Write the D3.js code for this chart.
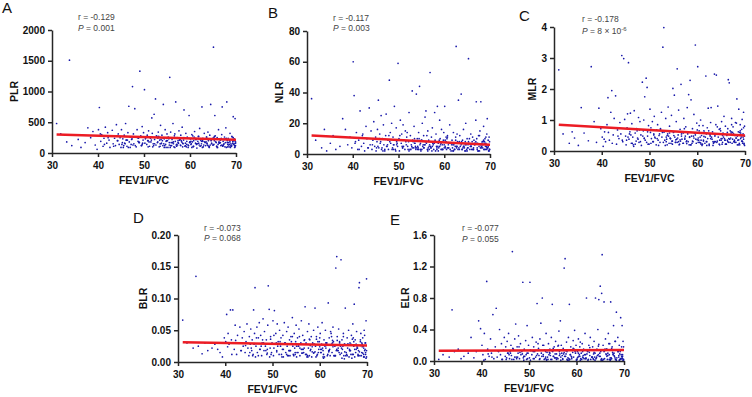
<!DOCTYPE html>
<html>
<head>
<meta charset="utf-8">
<script src="https://cdn.jsdelivr.net/npm/d3@7"></script>
<style>
body{margin:0;background:#fff;}
text{font-family:"Liberation Sans",Arial,sans-serif;}
.axis path,.axis line{stroke:#262626;stroke-width:1.5;}
.axis text{font-size:10px;font-weight:bold;fill:#111;font-family:"Liberation Sans",Arial,sans-serif;}
</style>
</head>
<body>
<div id="chart"></div>
<script>
var W = 752, H = 397;

// FEV1/FVC of each patient (shared by all panels)
var fev = [
31.0,31.9,33.2,33.8,34.3,35.1,35.7,36.3,37.2,37.8,
38.4,38.9,39.4,39.8,40.1,40.3,40.6,40.8,41.1,41.3,
41.6,41.9,42.1,42.4,42.6,42.9,43.1,43.3,43.6,43.8,
44.0,44.2,44.4,44.6,44.8,45.0,45.1,45.3,45.4,45.6,
45.7,45.9,46.0,46.2,46.3,46.5,46.7,46.8,47.0,47.2,
47.3,47.5,47.7,47.8,48.0,48.2,48.3,48.5,48.7,48.8,
49.0,49.1,49.3,49.5,49.6,49.8,49.9,50.1,50.2,50.4,
50.6,50.7,50.9,51.0,51.2,51.4,51.5,51.7,51.8,52.0,
52.2,52.3,52.5,52.6,52.8,53.0,53.1,53.3,53.4,53.6,
53.8,53.9,54.1,54.2,54.4,54.6,54.7,54.9,55.0,55.2,
55.3,55.5,55.6,55.8,56.0,56.1,56.3,56.4,56.6,56.8,
56.9,57.1,57.2,57.4,57.6,57.7,57.9,58.0,58.2,58.3,
58.5,58.7,58.8,59.0,59.1,59.3,59.4,59.6,59.8,59.9,
60.1,60.2,60.4,60.5,60.7,60.9,61.0,61.2,61.3,61.5,
61.7,61.8,62.0,62.1,62.3,62.5,62.6,62.8,62.9,63.1,
63.2,63.4,63.6,63.7,63.9,64.0,64.2,64.3,64.5,64.7,
64.8,65.0,65.1,65.3,65.4,65.6,65.8,65.9,66.1,66.2,
66.4,66.5,66.7,66.9,67.0,67.2,67.3,67.5,67.6,67.8,
68.0,68.1,68.3,68.4,68.6,68.7,68.9,69.0,69.1,69.3,
69.4,69.5,69.6,69.7,69.8,69.9,69.2,68.5,67.4,66.6,
65.7,64.9,63.8,62.7,61.6,60.6,59.7,58.6,57.5,56.5,
55.4,54.3,53.2,52.1,50.8,49.7,48.6,47.6,46.4,45.5,
69.9,69.7,69.3,68.8,68.2,67.7,67.1,66.3,65.2,64.4,
63.5,62.2,61.1,60.3,59.2,58.1,57.0,55.9,54.8,53.7,
45.2,46.1,47.0,47.9,48.9,49.4,50.3,51.1,51.9,52.7,
53.5,54.0,54.5,55.1,55.7,56.2,56.7,57.3,57.8,58.4,
58.9,59.5,60.0,60.4,60.8,61.4,61.9,62.4,62.8,63.3,
63.7,64.1,64.6,65.0,65.5,65.9,66.3,66.8,67.2,67.7,
68.1,68.6,69.0,69.4,69.7,69.9,69.5,69.1,68.7,68.2,
67.9,67.1,66.6,66.0,65.3,64.7,64.2,63.6,63.0,62.5,
61.9,61.3,60.7,60.0,59.3,58.7,58.0,57.4,56.7,56.1,
55.5,54.8,54.2,53.5,52.9,52.3,51.6,50.9,50.3,49.6,
48.9,48.1,47.4,46.6,45.8,44.3,43.4,42.2,41.4,40.5,
69.8,69.6,69.3,68.9,68.4,67.9,67.4,66.9,66.4,65.8,
65.2,64.6,63.9,63.3,62.7,62.0,61.4,60.8,60.2,59.6,
59.0,58.4,57.8,57.1,56.4,55.8,55.1,54.4,53.7,53.0
];

var plr = [
480,310,180,1510,120,290,220,90,170,410,
250,350,130,60,380,740,190,300,110,240,
420,160,330,210,90,280,370,150,240,120,
460,200,310,140,250,90,380,170,230,120,
290,150,480,210,110,330,760,180,260,140,
220,1080,310,150,720,260,100,380,190,240,
170,1330,280,120,430,210,330,1030,160,250,
140,290,200,360,110,240,180,570,320,150,
630,220,880,130,270,180,340,100,210,450,
160,290,120,790,230,380,140,200,310,90,
260,170,1230,340,120,220,480,150,280,190,
830,110,250,170,360,210,130,290,180,420,
150,700,240,120,320,190,260,90,610,170,
230,140,300,180,110,260,350,160,220,80,
190,270,130,400,210,150,750,240,100,320,
180,120,260,150,340,200,90,290,790,160,
230,130,1720,270,610,180,110,250,140,380,
160,220,120,300,750,190,140,260,100,410,
830,170,240,130,200,320,150,110,270,190,
590,140,230,120,560,180,260,100,150,210,
170,240,130,200,150,280,120,210,160,100,
230,150,270,120,200,160,250,130,210,90,
120,200,160,90,140,230,110,170,250,130,
180,110,240,150,100,200,130,170,90,220,
140,210,90,260,170,120,230,180,100,280,
150,200,120,250,90,170,310,130,220,160,
110,240,180,90,200,140,270,120,190,230,
160,100,210,130,280,90,180,240,120,170,
200,140,110,250,90,160,210,130,180,100,
240,120,170,90,200,150,110,260,130,190,
160,220,100,180,140,250,120,200,90,170,
130,190,240,110,170,150,210,100,260,140,
180,120,230,90,160,200,110,250,140,310,
100,150,190,120,170,90,220,130,160,110,
140,200,120,170,90,230,150,110,190,130,
160,100,220,140,180,120,200,90,150,240
];

var nlr = [
36,9,4,16,2,7,12,3,5,23,
16,6,11,4,60,38,8,14,3,9,
28,5,12,7,2,18,10,4,30,6,
15,3,9,21,5,11,2,8,16,35,
4,13,7,25,3,10,19,6,2,12,
26,5,9,3,48,14,7,20,4,11,
6,31,3,17,8,5,59,10,2,22,
7,13,4,19,9,3,15,6,11,5,
8,27,3,12,6,41,9,4,18,7,
3,39,10,5,14,44,6,2,9,20,
5,12,4,24,28,7,3,15,9,6,
53,4,11,17,6,3,27,8,13,5,
31,7,4,22,10,3,16,6,9,14,
31,5,8,3,12,6,4,19,7,2,
9,4,14,6,3,11,70,5,8,35,
4,12,7,39,3,9,16,5,2,20,
6,10,4,62,7,3,13,5,8,11,
4,9,6,22,34,3,7,12,5,15,
34,4,8,6,18,3,10,5,7,13,
23,4,9,6,11,3,5,8,2,7,
5,3,8,4,6,10,3,5,7,4,
6,4,8,3,5,7,3,6,4,5,
3,6,4,8,5,2,7,3,6,4,
5,3,7,4,6,2,5,8,3,4,
4,8,3,12,6,2,9,5,14,3,
7,4,10,3,6,12,5,2,8,4,
9,3,6,11,4,7,2,5,13,3,
6,4,8,2,10,5,3,7,4,12,
5,9,3,6,2,8,4,11,3,7,
4,10,6,3,8,2,5,7,3,9,
6,3,11,4,7,2,9,5,3,8,
4,7,3,10,5,2,8,4,12,6,
3,8,5,2,10,6,4,13,3,7,
2,5,3,7,4,6,2,8,3,5,
4,6,3,8,5,2,7,4,9,3,
5,3,7,4,2,6,9,3,5,4
];

var mlr = [
2.62,0.55,0.25,0.62,0.42,0.18,1.40,0.58,0.33,2.72,
0.95,0.28,1.38,0.72,0.45,0.15,0.62,0.30,0.85,1.72,
0.35,1.25,1.95,0.52,1.05,1.78,0.22,0.68,0.40,0.92,
0.55,3.08,0.30,2.98,1.02,0.48,0.20,0.75,1.20,2.85,
0.38,0.62,1.22,0.25,0.88,0.45,0.15,1.30,0.58,0.32,
0.72,0.42,1.08,0.28,0.95,0.52,0.18,2.22,0.65,1.00,
1.75,0.35,2.35,2.05,0.48,0.82,0.22,1.35,0.60,0.40,
0.95,0.30,0.55,1.12,0.42,0.20,0.68,0.85,0.35,0.50,
0.28,0.72,1.25,0.45,3.35,3.98,0.62,0.18,1.05,0.38,
0.55,1.42,0.25,0.80,0.40,1.15,0.32,2.02,0.60,1.80,
0.45,0.28,0.95,2.65,0.52,1.32,0.22,0.70,2.15,0.38,
0.60,0.25,1.05,0.42,0.78,0.30,1.40,0.55,1.82,0.20,
2.28,1.65,0.48,0.72,0.30,1.18,0.58,3.42,0.25,0.90,
2.72,0.42,0.65,0.28,1.00,0.50,0.18,0.82,0.35,0.60,
0.45,2.42,0.30,0.75,1.38,0.22,0.55,0.92,1.40,0.38,
0.62,0.25,2.48,0.48,0.85,2.45,0.32,1.45,0.55,0.20,
0.72,0.40,0.95,0.28,0.58,1.12,0.35,0.80,0.22,0.50,
0.30,2.30,2.20,0.65,0.42,1.05,0.25,0.78,0.55,0.35,
0.92,0.28,1.68,0.48,0.62,1.35,0.20,0.85,0.40,0.70,
1.02,0.30,0.55,1.25,0.22,0.80,0.45,0.35,0.60,0.28,
0.40,0.65,0.30,0.52,0.25,0.45,0.38,0.20,0.48,0.32,
0.28,0.42,0.35,0.55,0.30,0.22,0.48,0.38,0.25,0.45,
0.18,0.38,0.50,0.25,0.42,0.30,0.58,0.35,0.22,0.45,
0.28,0.40,0.22,0.35,0.48,0.30,0.25,0.42,0.32,0.50,
0.35,0.52,0.22,0.68,0.40,0.28,0.75,0.45,0.18,0.60,
0.30,0.48,0.25,0.62,0.38,0.20,0.55,0.72,0.33,0.44,
0.25,0.58,0.36,0.82,0.22,0.47,0.30,0.65,0.40,0.18,
0.52,0.28,0.70,0.35,0.45,0.22,0.60,0.38,0.85,0.30,
0.42,0.20,0.65,0.32,0.75,0.48,0.25,0.58,0.36,0.90,
0.28,0.62,0.40,0.22,0.50,0.35,0.78,0.30,0.45,0.18,
0.55,0.32,0.26,0.68,0.42,0.20,0.60,0.38,0.48,0.30,
0.36,0.22,0.58,0.45,0.28,0.70,0.40,0.52,0.25,0.62,
0.42,0.30,0.65,0.20,0.55,0.35,0.48,0.25,0.60,0.38,
0.25,0.45,0.32,0.60,0.20,0.50,0.38,0.28,0.72,0.35,
0.40,0.22,0.55,0.30,0.48,0.18,0.65,0.35,0.28,0.52,
0.32,0.46,0.24,0.58,0.36,0.28,0.50,0.40,0.20,0.62
];

var blr = [
0.066,0.030,0.022,0.135,0.025,0.013,0.030,0.018,0.022,0.028,
0.020,0.015,0.008,0.038,0.032,0.075,0.045,0.028,0.082,0.035,
0.082,0.020,0.058,0.012,0.042,0.030,0.055,0.018,0.038,0.025,
0.048,0.015,0.032,0.060,0.022,0.010,0.040,0.028,0.052,0.018,
0.035,0.012,0.082,0.045,0.117,0.025,0.055,0.015,0.038,0.062,
0.020,0.042,0.010,0.030,0.068,0.018,0.048,0.025,0.035,0.012,
0.058,0.120,0.083,0.022,0.040,0.015,0.030,0.065,0.010,0.081,
0.028,0.045,0.018,0.060,0.032,0.012,0.050,0.025,0.038,0.008,
0.042,0.020,0.062,0.030,0.015,0.048,0.025,0.055,0.010,0.035,
0.018,0.040,0.028,0.070,0.012,0.045,0.022,0.032,0.058,0.015,
0.038,0.025,0.052,0.010,0.030,0.065,0.020,0.042,0.015,0.035,
0.087,0.028,0.012,0.048,0.022,0.060,0.035,0.018,0.040,0.008,
0.030,0.050,0.015,0.085,0.025,0.040,0.010,0.055,0.020,0.032,
0.045,0.015,0.028,0.062,0.018,0.035,0.008,0.050,0.022,0.030,
0.012,0.093,0.038,0.020,0.048,0.028,0.015,0.055,0.032,0.010,
0.025,0.148,0.166,0.040,0.018,0.052,0.030,0.012,0.161,0.035,
0.020,0.045,0.010,0.028,0.085,0.015,0.038,0.022,0.050,0.008,
0.030,0.018,0.042,0.012,0.060,0.025,0.091,0.035,0.015,0.048,
0.022,0.010,0.117,0.125,0.032,0.045,0.015,0.028,0.038,0.008,
0.050,0.018,0.030,0.012,0.065,0.131,0.025,0.010,0.020,0.028,
0.012,0.025,0.018,0.030,0.010,0.022,0.015,0.028,0.008,0.020,
0.015,0.025,0.010,0.020,0.030,0.012,0.018,0.025,0.008,0.022,
0.008,0.015,0.022,0.010,0.018,0.028,0.012,0.020,0.005,0.025,
0.018,0.010,0.025,0.015,0.008,0.020,0.012,0.028,0.015,0.010,
0.015,0.028,0.010,0.035,0.020,0.008,0.042,0.025,0.012,0.030,
0.018,0.032,0.010,0.025,0.040,0.014,0.022,0.008,0.036,0.016,
0.028,0.012,0.038,0.020,0.006,0.030,0.016,0.045,0.024,0.010,
0.034,0.015,0.022,0.040,0.010,0.028,0.018,0.006,0.032,0.020,
0.012,0.035,0.024,0.008,0.030,0.018,0.042,0.014,0.026,0.010,
0.022,0.038,0.012,0.028,0.016,0.006,0.032,0.020,0.010,0.040,
0.018,0.030,0.008,0.024,0.036,0.014,0.026,0.010,0.034,0.020,
0.025,0.012,0.040,0.018,0.028,0.008,0.032,0.016,0.022,0.036,
0.014,0.030,0.020,0.038,0.010,0.026,0.018,0.034,0.012,0.024,
0.006,0.020,0.012,0.030,0.016,0.024,0.008,0.036,0.018,0.010,
0.028,0.014,0.022,0.010,0.034,0.018,0.026,0.012,0.020,0.032,
0.016,0.024,0.010,0.030,0.014,0.022,0.008,0.028,0.018,0.012
];

var elr = [
0.02,0.08,0.05,0.65,0.12,0.15,0.03,0.06,0.10,0.30,
0.04,0.12,0.51,0.41,0.20,0.08,0.35,0.02,1.01,0.15,
0.06,0.28,0.10,0.59,0.03,0.18,0.67,0.05,0.12,0.40,
0.08,0.22,0.02,0.14,0.30,0.06,0.18,0.04,0.25,0.10,
0.35,0.03,0.12,0.20,0.07,1.39,0.15,0.02,0.28,0.47,
0.05,0.18,0.10,0.32,0.03,0.22,0.08,0.12,1.00,0.04,
0.15,0.06,0.26,0.02,0.45,0.10,0.20,0.04,1.00,0.13,
0.08,0.30,0.03,0.18,0.12,0.05,0.24,0.73,0.09,0.16,
0.02,0.28,0.48,0.10,0.80,0.06,0.20,0.14,0.03,0.35,
0.11,0.05,0.22,0.08,0.15,0.02,0.30,0.72,0.12,0.06,
0.18,0.04,0.25,0.09,0.14,0.03,0.38,0.07,0.51,0.20,
0.10,0.02,0.16,1.18,1.30,0.06,0.24,0.12,0.04,0.30,
0.72,0.08,0.18,0.03,0.14,0.26,0.05,0.39,0.10,0.20,
0.02,0.12,0.28,0.06,0.18,0.03,0.10,0.22,0.05,0.15,
0.08,0.35,0.04,0.80,0.12,0.02,0.20,0.07,0.30,0.14,
0.05,0.18,0.02,0.25,0.10,0.80,0.04,0.15,0.40,0.78,
0.06,0.95,0.12,0.86,1.35,0.20,0.75,0.03,0.28,0.09,
0.15,0.02,0.35,0.08,0.22,0.75,0.04,0.18,0.11,0.45,
0.06,0.25,0.02,0.62,0.14,0.30,0.05,0.20,0.09,0.55,
0.03,0.18,0.45,0.08,0.25,0.02,0.12,0.04,0.16,0.07,
0.02,0.10,0.05,0.14,0.03,0.08,0.12,0.02,0.06,0.09,
0.04,0.11,0.02,0.07,0.13,0.03,0.09,0.05,0.02,0.10,
0.01,0.06,0.03,0.12,0.02,0.08,0.04,0.15,0.01,0.07,
0.03,0.09,0.02,0.05,0.11,0.01,0.07,0.04,0.13,0.02,
0.02,0.10,0.05,0.18,0.01,0.08,0.14,0.03,0.22,0.06,
0.12,0.02,0.07,0.16,0.04,0.20,0.01,0.09,0.13,0.03,
0.06,0.15,0.02,0.10,0.24,0.04,0.08,0.01,0.17,0.05,
0.11,0.03,0.19,0.06,0.01,0.13,0.08,0.22,0.02,0.09,
0.04,0.14,0.01,0.08,0.03,0.18,0.06,0.02,0.12,0.25,
0.07,0.01,0.10,0.15,0.03,0.21,0.05,0.09,0.02,0.13,
0.03,0.12,0.06,0.01,0.16,0.08,0.02,0.11,0.05,0.19,
0.09,0.02,0.14,0.05,0.20,0.03,0.07,0.12,0.01,0.10,
0.06,0.11,0.03,0.16,0.08,0.02,0.13,0.05,0.09,0.01,
0.01,0.04,0.02,0.07,0.01,0.10,0.03,0.02,0.06,0.12,
0.02,0.08,0.01,0.05,0.11,0.03,0.07,0.01,0.04,0.14,
0.05,0.01,0.09,0.03,0.12,0.02,0.06,0.10,0.01,0.08
];

// regression lines: value at FEV1/FVC = 31 and 70
var fitX = [31, 70];
var fitPLR = [300, 215];
var fitNLR = [12, 6];
var fitMLR = [0.85, 0.5];
var fitBLR = [0.031, 0.026];
var fitELR = [0.13, 0.14];

var letters = ["A", "B", "C", "D", "E"];
var yNames = ["PLR", "NLR", "MLR", "BLR", "ELR"];
var rTexts = ["r = -0.129", "r = -0.117", "r = -0.178", "r = -0.073", "r = -0.077"];
var pTexts = [" = 0.001", " = 0.003", " = 8 \u00d7 10", " = 0.068", " = 0.055"];
var pSup = ["", "", "-6", "", ""];
var xTicks = [30, 40, 50, 60, 70];
var yTicks = [
  [0, 500, 1000, 1500, 2000],
  [0, 20, 40, 60, 80],
  [0, 1, 2, 3, 4],
  [0, 0.05, 0.10, 0.15, 0.20],
  [0, 0.4, 0.8, 1.2, 1.6]
];
var yFormats = [d3.format("d"), d3.format("d"), d3.format("d"), d3.format(".2f"), d3.format(".1f")];
var values = [plr, nlr, mlr, blr, elr];
var fits = [fitPLR, fitNLR, fitMLR, fitBLR, fitELR];

// panel placement
var boxes = [
  {x0: 52, x1: 236, y0: 30, y1: 153, lx: 2, ly: 13, sx: 78, ry: 20, py: 31, yl: 14},
  {x0: 307, x1: 490, y0: 31, y1: 154, lx: 268, ly: 18, sx: 333, ry: 21, py: 31, yl: 279},
  {x0: 554, x1: 745, y0: 27, y1: 151, lx: 519, ly: 21, sx: 582, ry: 22, py: 34, yl: 532},
  {x0: 178, x1: 367, y0: 235, y1: 362, lx: 133, ly: 223, sx: 204, ry: 231, py: 241, yl: 143},
  {x0: 434, x1: 624, y0: 235, y1: 361, lx: 390, ly: 225, sx: 462, ry: 231, py: 242, yl: 405}
];

var svg = d3.select("#chart").append("svg")
  .attr("width", W)
  .attr("height", H);

letters.forEach(function(letter, i) {
  var b = boxes[i];
  var xScale = d3.scaleLinear().domain([30, 70]).range([b.x0, b.x1]);
  var yScale = d3.scaleLinear().domain([yTicks[i][0], yTicks[i][4]]).range([b.y1, b.y0]);
  var g = svg.append("g");

  // points
  g.selectAll("circle")
    .data(values[i])
    .enter()
    .append("circle")
    .attr("cx", function(d, k) { return xScale(fev[k]); })
    .attr("cy", function(d) { return yScale(d); })
    .attr("r", 0.85)
    .attr("fill", "#1818aa");

  // regression line
  var line = d3.line()
    .x(function(d, k) { return xScale(fitX[k]); })
    .y(function(d) { return yScale(d); });
  g.append("path")
    .datum(fits[i])
    .attr("d", line)
    .attr("fill", "none")
    .attr("stroke", "#ec1c24")
    .attr("stroke-width", 2.5);

  // axes
  g.append("g")
    .attr("class", "axis")
    .attr("transform", "translate(0," + b.y1 + ")")
    .call(d3.axisBottom(xScale).tickValues(xTicks).tickSize(4).tickSizeOuter(0).tickPadding(5));
  g.append("g")
    .attr("class", "axis")
    .attr("transform", "translate(" + b.x0 + ",0)")
    .call(d3.axisLeft(yScale).tickValues(yTicks[i]).tickFormat(yFormats[i]).tickSize(4).tickSizeOuter(0).tickPadding(3));

  // x title
  g.append("text")
    .attr("x", (b.x0 + b.x1) / 2)
    .attr("y", b.y1 + 31)
    .attr("text-anchor", "middle")
    .style("font-size", "10.5px")
    .style("font-weight", "bold")
    .attr("fill", "#111")
    .text("FEV1/FVC");

  // y title
  g.append("text")
    .attr("transform", "translate(" + (b.yl + 4) + "," + ((b.y0 + b.y1) / 2) + ") rotate(-90)")
    .attr("text-anchor", "middle")
    .style("font-size", "10.5px")
    .style("font-weight", "bold")
    .attr("fill", "#111")
    .text(yNames[i]);

  // panel letter
  g.append("text")
    .attr("x", b.lx)
    .attr("y", b.ly)
    .style("font-size", "15px")
    .attr("fill", "#111")
    .text(letter);

  // stats
  g.append("text")
    .attr("x", b.sx)
    .attr("y", b.ry)
    .style("font-size", "8.5px")
    .attr("fill", "#444")
    .text(rTexts[i]);
  var pt = g.append("text")
    .attr("x", b.sx)
    .attr("y", b.py)
    .style("font-size", "8.5px")
    .attr("fill", "#444");
  pt.append("tspan").style("font-style", "italic").text("P");
  pt.append("tspan").text(pTexts[i]);
  if (pSup[i]) {
    pt.append("tspan").attr("dy", -3.5).style("font-size", "6px").text(pSup[i]);
  }
});
</script>
</body>
</html>
